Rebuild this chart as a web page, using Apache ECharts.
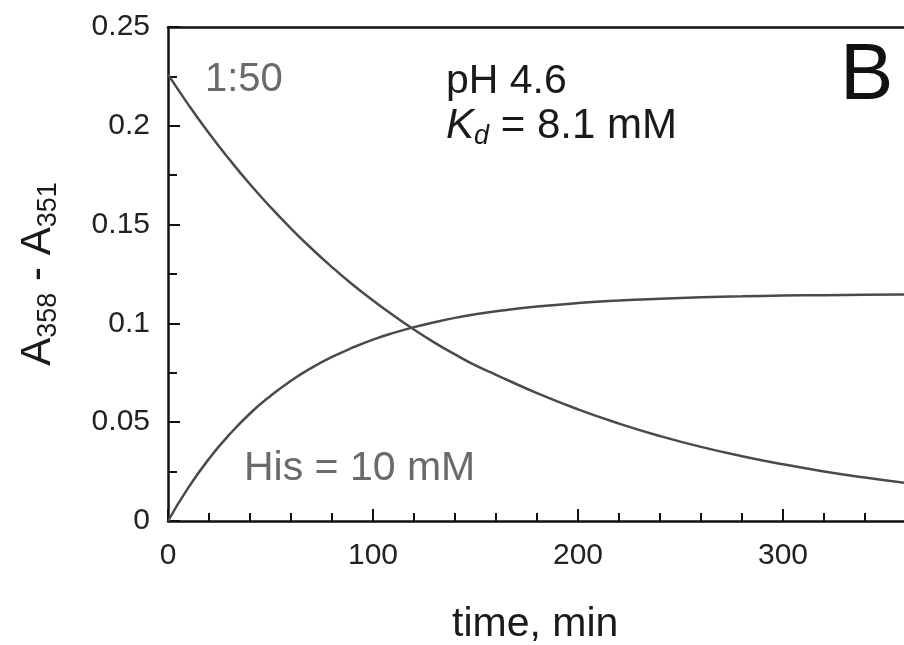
<!DOCTYPE html>
<html>
<head>
<meta charset="utf-8">
<script src="https://cdn.jsdelivr.net/npm/echarts@6/dist/echarts.min.js"></script>
<style>
  html, body { margin: 0; padding: 0; background: #fff; }
  #chart { width: 904px; height: 645px; }
</style>
</head>
<body>
<div id="chart"></div>
<script>
// Time points (min)
const timeMin = [0, 10, 20, 30, 40, 50, 60, 70, 80, 90, 100, 110, 120, 130, 140, 150, 160,
                 180, 200, 220, 240, 260, 280, 300, 320, 340, 360];

// A358 - A351 falling after the 1:50 dilution
const dissociation = [0.226, 0.2106, 0.1962, 0.1829, 0.1704, 0.1588, 0.148, 0.1379, 0.1285,
                      0.1197, 0.1116, 0.104, 0.0969, 0.0903, 0.0843, 0.0787, 0.074,
                      0.0647, 0.0565, 0.0493, 0.043, 0.0375, 0.0328, 0.0287, 0.0251, 0.022, 0.0192];

// A358 - A351 rising on addition of 10 mM His
const association = [0, 0.017, 0.0315, 0.0438, 0.0544, 0.0633, 0.071, 0.0775, 0.083, 0.0877,
                     0.0918, 0.0952, 0.0981, 0.1006, 0.1028, 0.1046, 0.1061,
                     0.1085, 0.1103, 0.1116, 0.1125, 0.1132, 0.1137, 0.1141, 0.1143, 0.1145, 0.1146];

const xTicks = [0, 100, 200, 300];
const yTicks = [0, 0.05, 0.1, 0.15, 0.2, 0.25];

const FONT = '"Liberation Sans", Arial, Helvetica, sans-serif';
const LINE_COLOR = '#4a4a4a';

const pair = (xs, ys) => xs.map((x, i) => [x, ys[i]]);

const chart = echarts.init(document.getElementById('chart'));

chart.setOption({
  backgroundColor: '#fff',
  animation: false,
  grid: {
    left: 168, top: 27, width: 820, height: 494,
    containLabel: false, outerBoundsMode: 'none', show: false
  },
  xAxis: [{
    type: 'value',
    min: 0, max: 400, interval: 100,
    axisLine: { show: true, onZero: false, lineStyle: { color: '#111', width: 2.5 } },
    axisTick: { show: true, inside: true, length: 12, lineStyle: { color: '#111', width: 2 } },
    minorTick: { show: true, splitNumber: 5, length: 8, lineStyle: { color: '#111', width: 2 } },
    splitLine: { show: false },
    axisLabel: {
      show: true, margin: 20, color: '#222', fontFamily: FONT, fontSize: 30,
      showMaxLabel: false,
      formatter: v => xTicks.includes(v) ? String(v) : ''
    }
  }, {
    // top frame line
    type: 'value', position: 'top',
    min: 0, max: 400,
    axisLine: { show: true, onZero: false, lineStyle: { color: '#111', width: 2.5 } },
    axisTick: { show: false }, axisLabel: { show: false }, splitLine: { show: false }
  }],
  yAxis: {
    type: 'value',
    min: 0, max: 0.25, interval: 0.05,
    axisLine: { show: true, onZero: false, lineStyle: { color: '#111', width: 2.5 } },
    axisTick: { show: true, inside: true, length: 12, lineStyle: { color: '#111', width: 2 } },
    minorTick: { show: true, splitNumber: 2, length: 9, lineStyle: { color: '#111', width: 2 } },
    splitLine: { show: false },
    axisLabel: {
      margin: 18, color: '#222', fontFamily: FONT, fontSize: 30,
      formatter: v => {
        const t = yTicks.find(y => Math.abs(y - v) < 1e-9);
        return t === undefined ? '' : String(t);
      }
    },
    name: '{a|A}{s|358}{a| - A}{s|351}',
    nameLocation: 'middle',
    nameRotate: 90,
    nameGap: 106,
    nameTextStyle: {
      fontFamily: FONT, color: '#1a1a1a',
      rich: {
        a: { fontFamily: FONT, fontSize: 42, color: '#1a1a1a', lineHeight: 48 },
        s: { fontFamily: FONT, fontSize: 27, color: '#1a1a1a', lineHeight: 27, padding: [21, 0, 0, 0] }
      }
    }
  },
  graphic: [
    {
      type: 'text', left: 205, top: 60, silent: true,
      style: { text: '1:50', font: '40px ' + FONT, fill: '#6a6a6a' }
    },
    {
      type: 'text', left: 446, top: 61, silent: true,
      style: { text: 'pH 4.6', font: '41px ' + FONT, fill: '#1a1a1a' }
    },
    {
      type: 'text', left: 446, top: 103, silent: true,
      style: {
        text: '{k|K}{d|d}{t| = 8.1 mM}',
        font: '42px ' + FONT, fill: '#1a1a1a',
        rich: {
          k: { fontFamily: FONT, fontSize: 42, fontStyle: 'italic', fill: '#1a1a1a', lineHeight: 46 },
          d: { fontFamily: FONT, fontSize: 27, fontStyle: 'italic', fill: '#1a1a1a', lineHeight: 27, padding: [20, 0, 0, 0] },
          t: { fontFamily: FONT, fontSize: 42, fill: '#1a1a1a', lineHeight: 46 }
        }
      }
    },
    {
      type: 'text', left: 840, top: 37, silent: true,
      style: { text: 'B', font: '80px ' + FONT, fill: '#111' }
    },
    {
      type: 'text', left: 244, top: 448, silent: true,
      style: { text: 'His = 10 mM', font: '41px ' + FONT, fill: '#6a6a6a' }
    },
    {
      type: 'text', left: 452, top: 604, silent: true,
      style: { text: 'time, min', font: '41px ' + FONT, fill: '#1a1a1a' }
    }
  ],
  series: [
    {
      name: '1:50', type: 'line', smooth: true, showSymbol: false,
      data: pair(timeMin, dissociation),
      lineStyle: { color: LINE_COLOR, width: 2.5 }
    },
    {
      name: 'His = 10 mM', type: 'line', smooth: true, showSymbol: false,
      data: pair(timeMin, association),
      lineStyle: { color: LINE_COLOR, width: 2.5 }
    }
  ]
});
</script>
</body>
</html>
